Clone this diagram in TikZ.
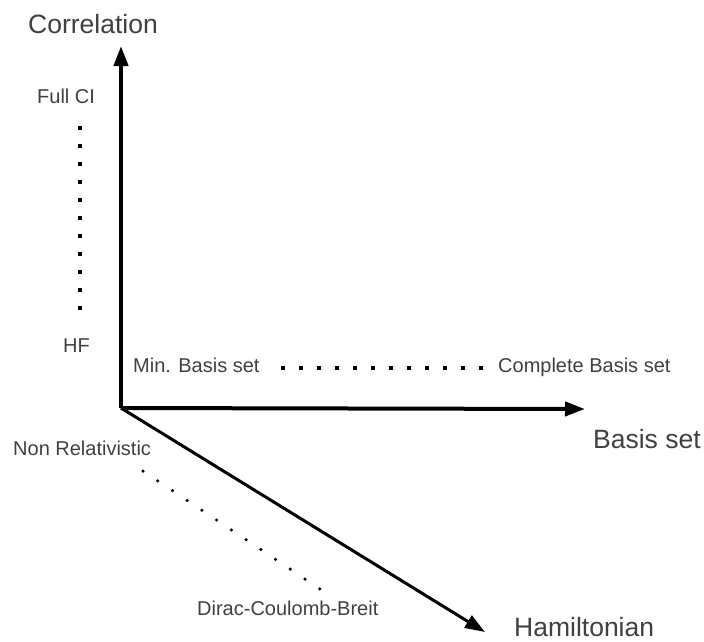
\documentclass[tikz,border=0pt]{standalone}
\usepackage{fontspec}
\setmainfont{Liberation Sans}
\usepackage{xcolor}
\usetikzlibrary{arrows.meta}
\definecolor{labelgray}{RGB}{64,64,64}

\begin{document}
\begin{tikzpicture}[x=1pt,y=-1pt,
		axis/.style={line width=4pt,-{Triangle[length=20pt,width=14pt]}},
		sqdots/.style={line width=4pt,dash pattern=on 4pt off 14pt},
		rddots/.style={line width=3.5pt,line cap=round,dash pattern=on 0pt off 17.7pt},
		small/.style={anchor=base west,inner sep=0pt,text=labelgray,font=\fontsize{20}{24}\selectfont},
		big/.style={anchor=base west,inner sep=0pt,text=labelgray,font=\fontsize{26.5}{30}\selectfont}]
			%\draw[help lines] (0,0) grid (704,641);
			\useasboundingbox (0,0) rectangle (704,641);
			
				\coordinate (O) at (121,408);
				\coordinate (C) at (121,46);
				\coordinate (B) at (585,409);
				\coordinate (H) at (485,632);
				
				\node[big] (corr) at (28,33) {Correlation};
				\node[big] (basis) at (593,448) {Basis set};
				\node[big] (ham) at (514,636) {Hamiltonian};
				
				\node[small] (fci) at (37,103) {Full CI};
				\node[small] (hf) at (63,352) {HF};
				\node[small] (minb) at (133,372) {Min. Basis set};
				\node[small] (cbs) at (498,372) {Complete Basis set};
				\node[small] (nonrel) at (13,455) {Non Relativistic};
				\node[small] (dcb) at (197,615) {Dirac-Coulomb-Breit};
				
				\draw[axis] (O) -- (C);
				\draw[axis] (O) -- (B);
				\draw[axis,line width=3pt] (O) -- (H);
				
				\coordinate (fcidot) at (80,126);
				\coordinate (hfdot) at (80,310);
				\coordinate (minbdot) at (281,368);
				\coordinate (cbsdot) at (483,368);
				\coordinate (nonreldot) at (143,471);
				\coordinate (dcbdot) at (320,589);
				
				\draw[sqdots] (fcidot) -- (hfdot);
				\draw[sqdots] (minbdot) -- (cbsdot);
				\draw[rddots] (nonreldot) -- (dcbdot);
			
\end{tikzpicture}
\end{document}
